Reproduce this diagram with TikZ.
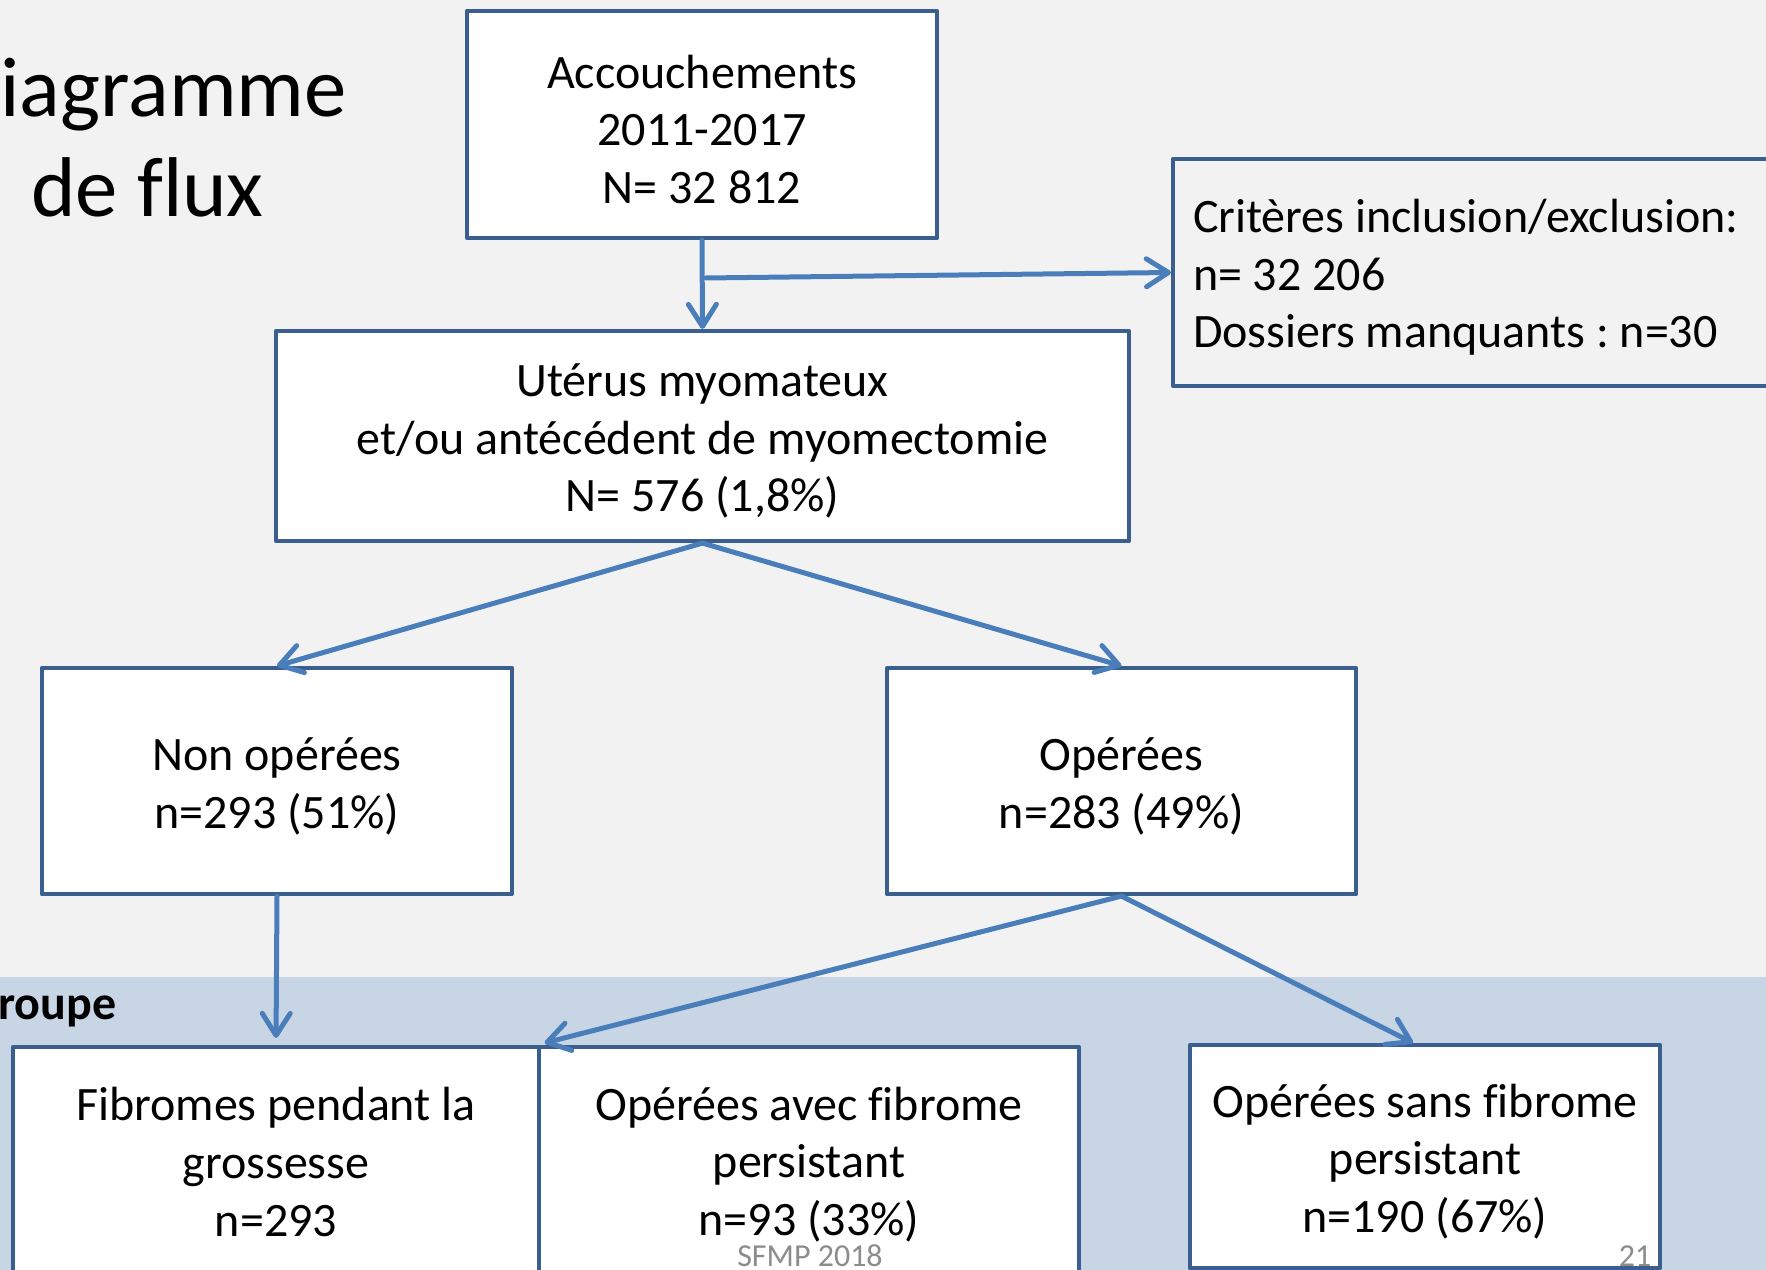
\documentclass[tikz,border=0pt]{standalone}
\usepackage{fontspec}
\setmainfont{Carlito}[Ligatures=NoCommon]
\frenchspacing
\usetikzlibrary{arrows.meta,calc}
\definecolor{bgc}{HTML}{F2F2F2}
\definecolor{bandc}{HTML}{C8D5E5}
\definecolor{boxc}{HTML}{3A5F8E}
\definecolor{arrc}{HTML}{4A7EBB}
\definecolor{footc}{HTML}{8C8C8C}
\newcommand\myboxfont{\fontsize{12pt}{14.4pt}\selectfont}
\newcommand\mytitlefont{\fontsize{21.2pt}{25pt}\selectfont}
\newcommand\myfootfont{\fontsize{8pt}{9.6pt}\selectfont}
\newcommand\mystrut{\rule{0pt}{10.8pt}}
\begin{document}
\begin{tikzpicture}[x=0.25pt,y=-0.25pt,
  box/.style={draw=boxc, line width=1.05pt, fill=white, align=center, font=\myboxfont, line join=round, inner sep=2pt},
  openbox/.style={draw=boxc, line width=1.05pt, align=flush left, font=\myboxfont, line join=round},
  conn/.style={draw=arrc, line width=1.25pt, line cap=round, -{Straight Barb[length=5.5pt,width=7pt,round]}}]
\useasboundingbox (0,0) rectangle (1766,1270);
\clip (0,0) rectangle (1766,1270);
\fill[bgc] (0,0) rectangle (1766,1270);
\fill[bandc] (0,977) rectangle (1766,1270);

% title
\node[anchor=base, font=\mytitlefont, inner sep=0] (t1) at (147.5,117) {Diagramme};
\node[anchor=base, font=\mytitlefont, inner sep=0] (t2) at (147.5,217) {de flux};
\node[anchor=base east, font=\bfseries\myboxfont, inner sep=0] (grp) at (117,1019) {Groupe};

% boxes
\node[box, minimum width=117.5pt, minimum height=56.75pt] (A) at (702,124.5)
  {\mystrut Accouchements\\2011-2017\\N= 32 812};
\node[openbox, minimum width=156.75pt, minimum height=56.75pt, text width=146.75pt, inner xsep=5pt] (crit) at (1486.5,272.5)
  {\mystrut Critères inclusion/exclusion:\\n= 32 206\\Dossiers manquants : n=30};
\node[box, minimum width=213.25pt, minimum height=52.5pt] (B) at (702.5,436)
  {\mystrut Utérus myomateux\\et/ou antécédent de myomectomie\\N= 576 (1,8\%)};
\node[box, minimum width=117.5pt, minimum height=56.5pt] (C) at (277,781)
  {\mystrut Non opérées\\n=293 (51\%)};
\node[box, minimum width=117.25pt, minimum height=56.5pt] (D) at (1121.5,781)
  {\mystrut Opérées\\n=283 (49\%)};
\node[box, minimum width=131.5pt, minimum height=56.25pt] (E) at (276,1159.5)
  {\rule{0pt}{9.6pt}Fibromes pendant la\\grossesse\\n=293};
\node[box, minimum width=135pt, minimum height=56.25pt] (F) at (809,1159.5)
  {\mystrut Opérées avec fibrome\\persistant\\n=93 (33\%)};
\node[box, minimum width=117.5pt, minimum height=55.75pt] (G) at (1425,1156.5)
  {\mystrut Opérées sans fibrome\\persistant\\n=190 (67\%)};

% connectors
\coordinate (split) at (706,278);
\draw[conn] (A.south) -- (B.north);
\draw[conn] (split) -- (crit.west);
\draw[conn] (B.south) -- (C.north);
\draw[conn] (B.south) -- (D.north);
\draw[conn, shorten >=1.75pt] (C.south) -- (E.north);
\draw[conn, shorten >=2pt] (D.south) -- (F.north west);
\draw[conn] (D.south) -- ($(G.north)+(-12,0)$);

% footer
\node[anchor=base, font=\myfootfont, text=footc, inner sep=0] (sfmp) at (810,1266) {SFMP 2018};
\node[anchor=base east, font=\myfootfont, text=footc, inner sep=0] (num) at (1652,1266) {21};
\end{tikzpicture}
\end{document}
